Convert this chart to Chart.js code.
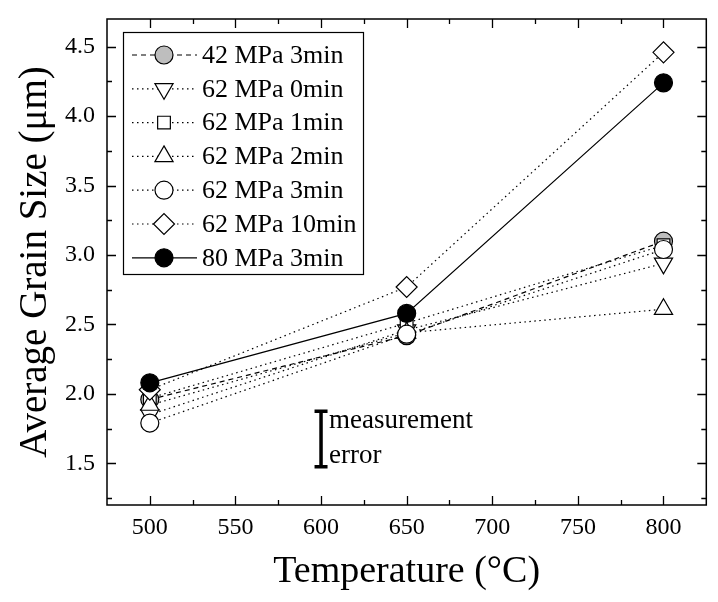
<!DOCTYPE html>
<html>
<head>
<meta charset="utf-8">
<script src="https://cdn.jsdelivr.net/npm/chart.js@4"></script>
<style>
  html, body { margin: 0; padding: 0; background: #fff; }
  #wrap { width: 718px; height: 602px; }
</style>
</head>
<body>
<div id="wrap"><canvas id="grainChart"></canvas></div>
<script>
// data
const temps = [500, 650, 800];
const seriesNames = ['42 MPa 3min', '62 MPa 0min', '62 MPa 1min', '62 MPa 2min', '62 MPa 3min', '62 MPa 10min', '80 MPa 3min'];
const p42_3min = [1.96, 2.42, 3.10];
const p62_0min = [1.85, 2.46, 2.94];
const p62_1min = [1.97, 2.51, 3.07];
const p62_2min = [1.92, 2.44, 2.61];
const p62_3min = [1.79, 2.43, 3.04];
const p62_10min = [2.03, 2.77, 4.46];
const p80_3min = [2.08, 2.58, 4.24];
const xTickLabels = [500, 550, 600, 650, 700, 750, 800];
const yTickLabels = [1.5, 2.0, 2.5, 3.0, 3.5, 4.0, 4.5];
// measurement error bar (centre and half length, in data units)
const errTemp = 600;
const errCenter = 1.675;
const errHalf = 0.2;

const SERIF = '"Liberation Serif", "Times New Roman", serif';
const DOT = [1.5, 3.5];
const DASH = [5, 4];

const styles = [
  { pointStyle: 'circle', radius: 9, rotation: 0, fill: '#bebebe', dash: DASH },
  { pointStyle: 'triangle', radius: 10.5, rotation: 180, fill: '#fff', dash: DOT },
  { pointStyle: 'rect', radius: 9, rotation: 0, fill: '#fff', dash: DOT },
  { pointStyle: 'triangle', radius: 10.5, rotation: 0, fill: '#fff', dash: DOT },
  { pointStyle: 'circle', radius: 9, rotation: 0, fill: '#fff', dash: DOT },
  { pointStyle: 'rectRot', radius: 10.5, rotation: 0, fill: '#fff', dash: DOT },
  { pointStyle: 'circle', radius: 9, rotation: 0, fill: '#000', dash: [] }
];
const values = [p42_3min, p62_0min, p62_1min, p62_2min, p62_3min, p62_10min, p80_3min];

const datasets = values.map((vals, i) => ({
  label: seriesNames[i],
  data: temps.map((t, k) => ({ x: t, y: vals[k] })),
  borderColor: '#000',
  borderWidth: 1.2,
  borderDash: styles[i].dash,
  backgroundColor: styles[i].fill,
  pointStyle: styles[i].pointStyle,
  pointRadius: styles[i].radius,
  pointRotation: styles[i].rotation,
  pointBackgroundColor: styles[i].fill,
  pointBorderColor: '#000',
  pointBorderWidth: 1.2,
  tension: 0,
  fill: false,
  order: values.length - i
}));

// major labels plus a minor tick halfway between each pair
function withMinor(list) {
  const out = [];
  const step = list[1] - list[0];
  out.push(list[0] - step / 2);
  list.forEach(v => { out.push(v); out.push(v + step / 2); });
  return out;
}
const xTicksAll = withMinor(xTickLabels);
const yTicksAll = withMinor(yTickLabels);

// frame with inward ticks on all four sides
const framePlugin = {
  id: 'frame',
  afterDatasetsDraw(chart) {
    const { ctx, chartArea: a, scales } = chart;
    ctx.save();
    ctx.strokeStyle = '#000';
    ctx.lineWidth = 1.5;
    ctx.strokeRect(a.left, a.top, a.right - a.left, a.bottom - a.top);
    ctx.lineWidth = 1.3;
    ctx.beginPath();
    xTicksAll.forEach(v => {
      if (v <= scales.x.min || v >= scales.x.max) return;
      const px = Math.round(scales.x.getPixelForValue(v)) + 0.5;
      const len = xTickLabels.includes(v) ? 9 : 5;
      ctx.moveTo(px, a.bottom); ctx.lineTo(px, a.bottom - len);
      ctx.moveTo(px, a.top); ctx.lineTo(px, a.top + len);
    });
    yTicksAll.forEach(v => {
      if (v <= scales.y.min || v >= scales.y.max) return;
      const py = Math.round(scales.y.getPixelForValue(v)) + 0.5;
      const len = yTickLabels.includes(v) ? 9 : 5;
      ctx.moveTo(a.left, py); ctx.lineTo(a.left + len, py);
      ctx.moveTo(a.right, py); ctx.lineTo(a.right - len, py);
    });
    ctx.stroke();

    // measurement error bar
    const ex = scales.x.getPixelForValue(errTemp);
    const eTop = scales.y.getPixelForValue(errCenter + errHalf);
    const eBot = scales.y.getPixelForValue(errCenter - errHalf);
    ctx.lineWidth = 3.5;
    ctx.beginPath();
    ctx.moveTo(ex, eTop); ctx.lineTo(ex, eBot);
    ctx.moveTo(ex - 6.5, eTop); ctx.lineTo(ex + 6.5, eTop);
    ctx.moveTo(ex - 6.5, eBot); ctx.lineTo(ex + 6.5, eBot);
    ctx.stroke();
    ctx.fillStyle = '#000';
    ctx.font = '27px ' + SERIF;
    ctx.textBaseline = 'middle';
    ctx.textAlign = 'left';
    ctx.fillText('measurement', ex + 8, eTop + 10);
    ctx.fillText('error', ex + 8, eBot - 11);
    ctx.restore();
  }
};

// legend box: line + marker + label per series
const legendPlugin = {
  id: 'boxLegend',
  afterDraw(chart) {
    const { ctx } = chart;
    const box = { left: 123, top: 32, right: 363, bottom: 274 };
    ctx.save();
    ctx.fillStyle = '#fff';
    ctx.fillRect(box.left, box.top, box.right - box.left, box.bottom - box.top);
    ctx.strokeStyle = '#000';
    ctx.lineWidth = 1.2;
    ctx.strokeRect(box.left + 0.5, box.top + 0.5, box.right - box.left, box.bottom - box.top);
    chart.data.datasets.forEach((ds, i) => {
      const y = 55 + i * 33.8;
      ctx.lineWidth = ds.borderWidth;
      ctx.setLineDash(ds.borderDash);
      ctx.beginPath();
      ctx.moveTo(132, y); ctx.lineTo(197, y);
      ctx.stroke();
      ctx.setLineDash([]);
      ctx.fillStyle = ds.pointBackgroundColor;
      ctx.lineWidth = ds.pointBorderWidth;
      Chart.helpers.drawPoint(ctx, {
        pointStyle: ds.pointStyle,
        radius: ds.pointRadius,
        rotation: ds.pointRotation,
        borderWidth: ds.pointBorderWidth
      }, 164, y);
      ctx.fillStyle = '#000';
      ctx.font = '26px ' + SERIF;
      ctx.textBaseline = 'middle';
      ctx.textAlign = 'left';
      ctx.fillText(ds.label, 202, y + 1);
    });
    ctx.restore();
  }
};

new Chart(document.getElementById('grainChart').getContext('2d'), {
  type: 'line',
  data: { datasets },
  plugins: [framePlugin, legendPlugin],
  options: {
    responsive: true,
    maintainAspectRatio: false,
    animation: false,
    layout: { padding: { top: 19, right: 7, left: 0, bottom: 0 } },
    plugins: { legend: { display: false }, tooltip: { enabled: false } },
    scales: {
      x: {
        type: 'linear',
        min: 475,
        max: 825,
        afterBuildTicks: s => { s.ticks = xTickLabels.map(v => ({ value: v })); },
        afterFit: s => { s.height = 97; s.paddingLeft = 0; s.paddingRight = 0; },
        grid: { display: false, drawTicks: false },
        border: { display: false },
        ticks: {
          padding: 8,
          color: '#000',
          autoSkip: false,
          maxRotation: 0,
          font: { family: SERIF, size: 24 },
          callback: v => String(v)
        },
        title: {
          display: true,
          text: 'Temperature (°C)',
          color: '#000',
          font: { family: SERIF, size: 38 },
          padding: { top: 0, bottom: 7 }
        }
      },
      y: {
        min: 1.2,
        max: 4.7,
        afterBuildTicks: s => { s.ticks = yTickLabels.map(v => ({ value: v })); },
        afterFit: s => { s.width = 107; s.paddingTop = 0; s.paddingBottom = 0; },
        grid: { display: false, drawTicks: false },
        border: { display: false },
        ticks: {
          padding: 12,
          color: '#000',
          autoSkip: false,
          font: { family: SERIF, size: 24 },
          callback: v => v.toFixed(1)
        },
        title: {
          display: true,
          text: 'Average Grain Size (μm)',
          color: '#000',
          font: { family: SERIF, size: 39 },
          padding: { top: 12, bottom: 0 }
        }
      }
    }
  }
});
</script>
</body>
</html>
